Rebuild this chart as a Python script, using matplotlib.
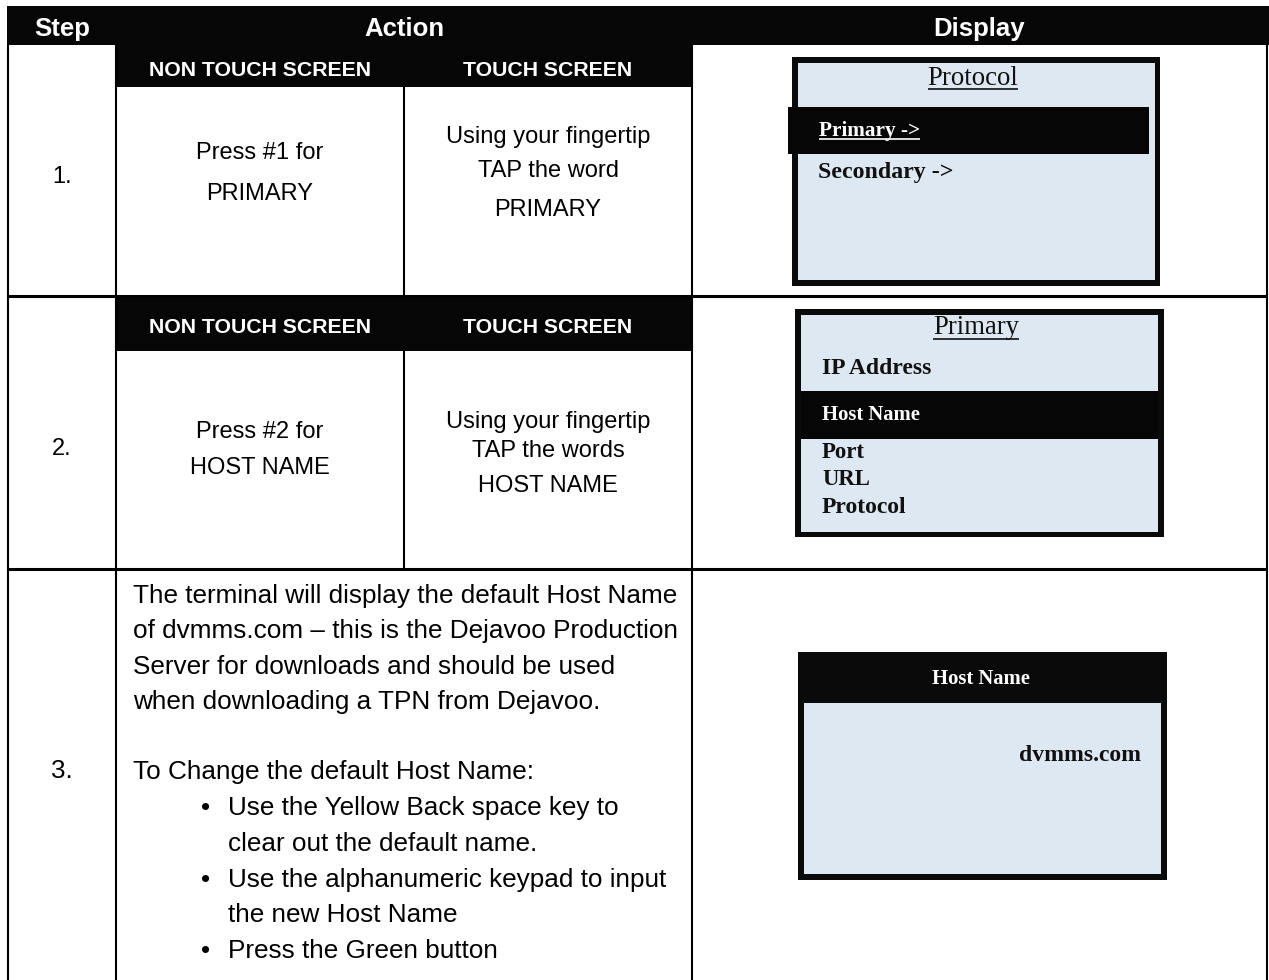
import matplotlib.pyplot as plt
from matplotlib.patches import Rectangle

# ---- table content ----
header_cols = ['Step', 'Action', 'Display']
sub_cols = ['NON TOUCH SCREEN', 'TOUCH SCREEN']
step_labels = ['1.', '2.', '3.']
non_touch_text = [['Press #1 for', 'PRIMARY'],
                  ['Press #2 for', 'HOST NAME']]
touch_text = [['Using your fingertip', 'TAP the word', 'PRIMARY'],
              ['Using your fingertip', 'TAP the words', 'HOST NAME']]
step3_lines = ['The terminal will display the default Host Name',
               'of dvmms.com \u2013 this is the Dejavoo Production',
               'Server for downloads and should be used',
               'when downloading a TPN from Dejavoo.',
               '',
               'To Change the default Host Name:']
step3_bullets = [['Use the Yellow Back space key to', 'clear out the default name.'],
                 ['Use the alphanumeric keypad to input', 'the new Host Name'],
                 ['Press the Green button']]

screen1_title = 'Protocol'
screen1_items = ['Primary ->', 'Secondary ->']
screen2_title = 'Primary'
screen2_items = ['IP Address', 'Host Name', 'Port', 'URL', 'Protocol']
screen3_title = 'Host Name'
screen3_value = 'dvmms.com'

# ---- layout (pixels, y down) ----
W, H = 1269, 980
X_L, X_STEP, X_MID, X_ACT, X_R = 8, 116, 404, 692, 1267
Y_TOP, Y_HEAD = 6, 45
row_edges = [45, 296, 569, 980]
sub_bottoms = [87, 351]
LCD = '#dee8f2'
INK = '#111111'
LW = 1.5

sans = ['Liberation Sans', 'DejaVu Sans']
serif = ['Liberation Serif', 'DejaVu Serif']
FS = 17          # rows 1-2
FS3 = 18.8       # row 3
FS_HEAD = 18.5
FS_SUB = 15.3

fig = plt.figure(figsize=(W / 100, H / 100), dpi=100)
ax = fig.add_axes([0, 0, 1, 1])
ax.set_xlim(0, W)
ax.set_ylim(H, 0)
ax.axis('off')


def rect(x0, y0, x1, y1, color):
    ax.add_patch(Rectangle((x0, y0), x1 - x0, y1 - y0, facecolor=color,
                           edgecolor='none', zorder=1))


def underline(t, y, color, lw=1.2):
    r = fig.canvas.get_renderer()
    bb = t.get_window_extent(r).transformed(ax.transData.inverted())
    ax.plot([bb.x0, bb.x1], [y, y], color=color, lw=lw, zorder=4,
            solid_capstyle='butt')


# header band
rect(X_L - 1, Y_TOP, W, Y_HEAD, '#060606')
head_x = [(X_L + X_STEP) / 2, (X_STEP + X_ACT) / 2, (X_ACT + X_R) / 2]
for x, s in zip(head_x, header_cols):
    ax.text(x, 36, s, color='white', fontsize=FS_HEAD, fontweight='bold',
            family=sans, ha='center', va='baseline', zorder=3)

# grid lines
for x in [X_L, X_STEP, X_ACT, X_R]:
    ax.plot([x, x], [Y_HEAD, H], color='black', lw=LW, zorder=2,
            solid_capstyle='butt')
for y in row_edges[1:3]:
    ax.plot([X_L, X_R], [y, y], color='black', lw=2.2, zorder=2,
            solid_capstyle='butt')

# sub headers + action cells for rows 1, 2
sub_base = [76, 333]
nt_base = [[159, 200], [438, 474]]
t_base = [[143, 177, 216], [428, 457, 492]]
step_base = [183, 455, 778]
for i in range(2):
    top, bot = row_edges[i], row_edges[i + 1]
    rect(X_STEP, top, X_ACT, sub_bottoms[i], '#060606')
    ax.plot([X_MID, X_MID], [sub_bottoms[i], bot], color='black', lw=LW, zorder=2)
    for x, s in zip([(X_STEP + X_MID) / 2, (X_MID + X_ACT) / 2], sub_cols):
        ax.text(x, sub_base[i], s, color='white', fontsize=FS_SUB, fontweight='bold',
                family=sans, ha='center', va='baseline', zorder=3)
    for y, s in zip(nt_base[i], non_touch_text[i]):
        ax.text((X_STEP + X_MID) / 2, y, s, fontsize=FS, family=sans,
                ha='center', va='baseline', zorder=3)
    for y, s in zip(t_base[i], touch_text[i]):
        ax.text((X_MID + X_ACT) / 2, y, s, fontsize=FS, family=sans,
                ha='center', va='baseline', zorder=3)

for y, s, f in zip(step_base, step_labels, [FS, FS, FS3]):
    ax.text((X_L + X_STEP) / 2, y, s, fontsize=f, family=sans,
            ha='center', va='baseline', zorder=3)

# step 3 text
LINE = 35.3
y = 603
for s in step3_lines:
    if s:
        ax.text(133, y, s, fontsize=FS3, family=sans, ha='left', va='baseline', zorder=3)
    y += LINE
y = 815
for b in step3_bullets:
    ax.text(201, y, '\u2022', fontsize=FS3, family=sans, ha='left', va='baseline', zorder=3)
    for s in b:
        ax.text(228, y, s, fontsize=FS3, family=sans, ha='left', va='baseline', zorder=3)
        y += 35.8

# ---- screen 1 ----
rect(792, 57, 1160, 286, '#0a0a0a')
rect(798, 63, 1155, 280, LCD)
rect(788, 107, 1149, 154, '#060606')
t = ax.text(973, 85, screen1_title, fontsize=19.3, family=serif, ha='center',
            va='baseline', zorder=3, color=INK)
underline(t, 89, INK)
t = ax.text(819, 136, screen1_items[0], fontsize=15.3, family=serif,
            fontweight='bold', color='white', ha='left', va='baseline', zorder=3)
underline(t, 139.5, 'white')
ax.text(818, 178, screen1_items[1], fontsize=17.2, family=serif,
        fontweight='bold', ha='left', va='baseline', zorder=3, color=INK)

# ---- screen 2 ----
rect(795, 309, 1164, 537, '#0a0a0a')
rect(801, 315, 1158, 532, LCD)
rect(801, 391, 1158, 439, '#060606')
t = ax.text(976, 334, screen2_title, fontsize=19.2, family=serif, ha='center',
            va='baseline', zorder=3, color=INK)
underline(t, 339, INK)
s2_base = [374, 420, 458, 485, 513]
s2_size = [17, 14.9, 16.5, 16.4, 17]
for i, (yb, s) in enumerate(zip(s2_base, screen2_items)):
    hl = i == 1
    ax.text(822, yb, s, fontsize=s2_size[i], family=serif, fontweight='bold',
            color='white' if hl else INK, ha='left', va='baseline', zorder=3)

# ---- screen 3 ----
rect(798, 652, 1167, 880, '#0a0a0a')
rect(804, 703, 1161, 874, LCD)
ax.text(981, 684, screen3_title, fontsize=14.9, family=serif, fontweight='bold',
        color='white', ha='center', va='baseline', zorder=3)
ax.text(1141, 761, screen3_value, fontsize=17, family=serif, fontweight='bold',
        color=INK, ha='right', va='baseline', zorder=3)

fig.savefig('out.png', dpi=100, facecolor='white')
